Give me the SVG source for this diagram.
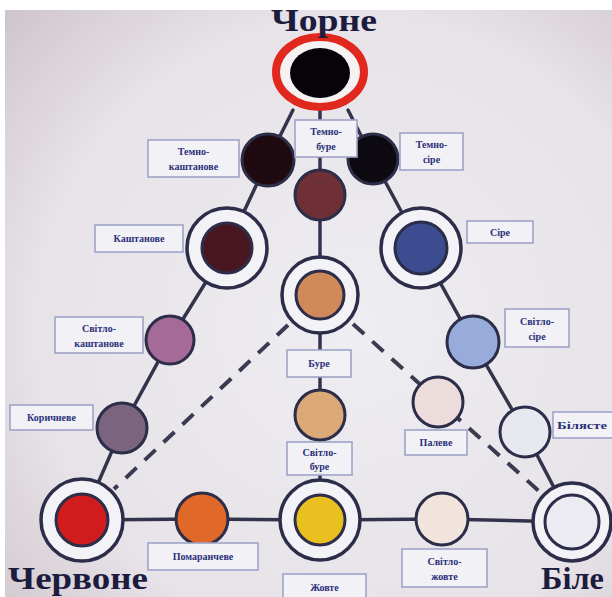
<svg xmlns="http://www.w3.org/2000/svg" width="612" height="597" viewBox="0 0 612 597">
<defs>
<radialGradient id="bg" cx="0.58" cy="0.55" r="0.8">
<stop offset="0" stop-color="#eeedf1"/>
<stop offset="0.65" stop-color="#e7e3e8"/>
<stop offset="1" stop-color="#cdc3ca"/>
</radialGradient>
<style>
.ln{stroke:#33334c;stroke-width:3.5;fill:none;stroke-linecap:round}
.ds{stroke:#3a3a50;stroke-width:4;fill:none;stroke-dasharray:15 11}
.ring{fill:#f3f2f7;stroke:#2c2d48;stroke-width:3.5}
.dot{stroke:#2c2d48;stroke-width:3}
.box{fill:#f2f1f6;stroke:#9fa3c9;stroke-width:1.6}
.lb{font-family:"Liberation Serif","DejaVu Serif",serif;font-size:10px;font-weight:bold;fill:#2a3078;text-anchor:middle}
.lbs{font-family:"Liberation Serif","DejaVu Serif",serif;font-size:10px;font-weight:bold;fill:#2a3078;text-anchor:start}
.big{font-family:"Liberation Serif","DejaVu Serif",serif;font-size:31px;font-weight:bold;fill:#1c1c3e}
</style>
</defs>
<rect x="0" y="0" width="612" height="597" fill="url(#bg)"/>

<g id="connectors">
<line class="ln" x1="293" y1="110" x2="268" y2="160"/>
<line class="ln" x1="348" y1="110" x2="373" y2="159"/>
<line class="ln" x1="320" y1="111" x2="320" y2="120"/>
<line class="ln" x1="320" y1="157" x2="320" y2="195"/>
<line class="ln" x1="320" y1="195" x2="320" y2="295"/>
<line class="ln" x1="320" y1="295" x2="320" y2="350"/>
<line class="ln" x1="320" y1="377" x2="320" y2="415"/>
<line class="ln" x1="320" y1="415" x2="320" y2="442"/>
<line class="ln" x1="320" y1="475" x2="320" y2="520"/>
<polyline class="ln" points="268,160 227,248 170,340 122,428 82,520"/>
<polyline class="ln" points="373,159 421,248 473,342 525,432 572,522"/>
<polyline class="ln" points="82,520 202,519 320,520 442,519 572,522"/>
<line class="ds" x1="288" y1="325" x2="114" y2="489"/>
<line class="ds" x1="353" y1="324" x2="540" y2="492"/>
</g>

<g id="chorne">
<ellipse cx="320" cy="72" rx="44" ry="35" fill="#f6f2f4" stroke="#e0281e" stroke-width="8"/>
<ellipse cx="320" cy="73" rx="30" ry="25" fill="#060408"/>
<text class="big" x="324" y="31" text-anchor="middle" textLength="106" lengthAdjust="spacingAndGlyphs">Чорне</text>
</g>

<g id="temno-kashtanove">
<circle class="dot" cx="268" cy="160" r="26" fill="#1e0a10"/>
<rect class="box" x="148" y="140" width="91" height="37"/>
<text class="lb" x="193.5" y="155">Темно-</text>
<text class="lb" x="193.5" y="170">каштанове</text>
</g>

<g id="temno-sire">
<circle class="dot" cx="373" cy="159" r="25" fill="#0c0a10"/>
<rect class="box" x="400" y="133" width="63" height="37"/>
<text class="lb" x="431.5" y="148">Темно-</text>
<text class="lb" x="431.5" y="163">сіре</text>
</g>

<g id="temno-bure">
<circle class="dot" cx="320" cy="195" r="25" fill="#6e3035"/>
<rect class="box" x="295" y="120" width="62" height="37"/>
<text class="lb" x="326" y="135">Темно-</text>
<text class="lb" x="326" y="150">буре</text>
</g>

<g id="kashtanove">
<circle class="ring" cx="227" cy="248" r="40"/>
<circle class="dot" cx="227" cy="248" r="25" fill="#4a1620"/>
<rect class="box" x="95" y="225" width="88" height="27"/>
<text class="lb" x="139" y="242">Каштанове</text>
</g>

<g id="sire">
<circle class="ring" cx="421" cy="248" r="40"/>
<circle class="dot" cx="421" cy="248" r="26" fill="#3c4c90"/>
<rect class="box" x="467" y="221" width="66" height="22"/>
<text class="lb" x="500" y="236">Сіре</text>
</g>

<g id="bure">
<circle class="ring" cx="320" cy="295" r="38"/>
<circle class="dot" cx="320" cy="295" r="24" fill="#d08a5a"/>
<rect class="box" x="287" y="350" width="64" height="27"/>
<text class="lb" x="319" y="367">Буре</text>
</g>

<g id="svitlo-kashtanove">
<circle class="dot" cx="170" cy="340" r="24" fill="#a66a98"/>
<rect class="box" x="55" y="317" width="88" height="36"/>
<text class="lb" x="99" y="332">Світло-</text>
<text class="lb" x="99" y="347">каштанове</text>
</g>

<g id="svitlo-sire">
<circle class="dot" cx="473" cy="342" r="26" fill="#98acdc"/>
<rect class="box" x="505" y="309" width="64" height="38"/>
<text class="lb" x="537" y="325">Світло-</text>
<text class="lb" x="537" y="340">сіре</text>
</g>

<g id="korychneve">
<circle class="dot" cx="122" cy="428" r="25" fill="#7a6480"/>
<rect class="box" x="10" y="405" width="83" height="25"/>
<text class="lb" x="51.5" y="421">Коричневе</text>
</g>

<g id="svitlo-bure">
<circle class="dot" cx="320" cy="415" r="25" fill="#dca878"/>
<rect class="box" x="287" y="442" width="65" height="33"/>
<text class="lb" x="319.5" y="456">Світло-</text>
<text class="lb" x="319.5" y="470">буре</text>
</g>

<g id="paleve">
<circle class="dot" cx="438" cy="402" r="25" fill="#ecdcdc"/>
<rect class="box" x="405" y="430" width="62" height="25"/>
<text class="lb" x="436" y="446">Палеве</text>
</g>

<g id="bilyaste">
<circle class="dot" cx="525" cy="432" r="25" fill="#e8e8f0"/>
<rect class="box" x="553" y="412" width="70" height="26"/>
<text class="lbs" x="557" y="429" textLength="50" lengthAdjust="spacingAndGlyphs">Білясте</text>
</g>

<g id="chervone">
<circle class="ring" cx="82" cy="520" r="41"/>
<circle class="dot" cx="82" cy="520" r="26" fill="#d01c1c"/>
<text class="big" x="8" y="589" textLength="140" lengthAdjust="spacingAndGlyphs">Червоне</text>
</g>

<g id="pomaranchеve">
<circle class="dot" cx="202" cy="519" r="26" fill="#e06828"/>
<rect class="box" x="148" y="543" width="110" height="27"/>
<text class="lb" x="203" y="560">Помаранчеве</text>
</g>

<g id="zhovte">
<circle class="ring" cx="320" cy="520" r="40"/>
<circle class="dot" cx="320" cy="520" r="25" fill="#e8c020"/>
<rect class="box" x="283" y="574" width="83" height="30"/>
<text class="lb" x="324.5" y="591">Жовте</text>
</g>

<g id="svitlo-zhovte">
<circle class="dot" cx="442" cy="519" r="26" fill="#f0e4dc"/>
<rect class="box" x="402" y="549" width="85" height="38"/>
<text class="lb" x="444.5" y="565">Світло-</text>
<text class="lb" x="444.5" y="580">жовте</text>
</g>

<g id="bile">
<circle class="ring" cx="572" cy="522" r="39"/>
<circle class="dot" cx="572" cy="522" r="27" fill="#ecebf2"/>
<text class="big" x="541" y="589" textLength="63" lengthAdjust="spacingAndGlyphs">Біле</text>
</g>

<rect x="0" y="0" width="612" height="10" fill="#ffffff"/>
<rect x="0" y="0" width="5" height="597" fill="#ffffff"/>
</svg>
